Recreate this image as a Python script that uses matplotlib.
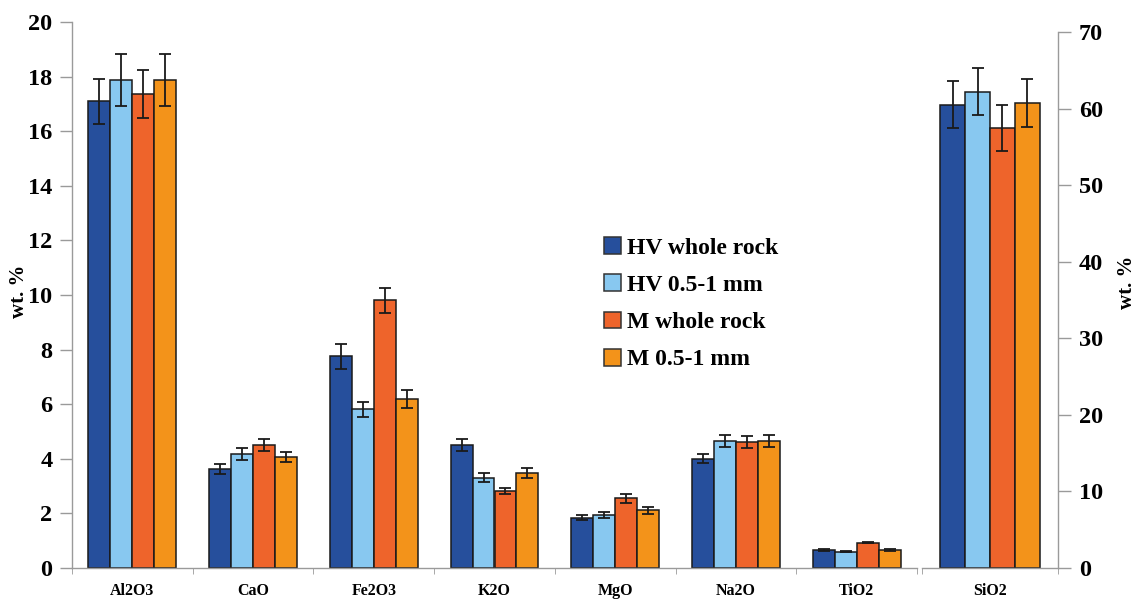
import matplotlib
matplotlib.use("Agg")
import matplotlib.pyplot as plt
from matplotlib.patches import Patch
import numpy as np

# Oxide compositions (wt. %) with standard deviations
oxides = ["Al2O3", "CaO", "Fe2O3", "K2O", "MgO", "Na2O", "TiO2"]
series = ["HV whole rock", "HV 0.5-1 mm", "M whole rock", "M 0.5-1 mm"]

hv_whole = [17.1, 3.63, 7.75, 4.50, 1.84, 4.00, 0.66]
hv_fine = [17.87, 4.18, 5.81, 3.31, 1.95, 4.65, 0.60]
m_whole = [17.38, 4.50, 9.80, 2.82, 2.55, 4.60, 0.93]
m_fine = [17.87, 4.07, 6.19, 3.48, 2.11, 4.65, 0.67]

hv_whole_err = [0.82, 0.18, 0.45, 0.23, 0.10, 0.17, 0.03]
hv_fine_err = [0.95, 0.22, 0.27, 0.16, 0.11, 0.23, 0.03]
m_whole_err = [0.88, 0.22, 0.45, 0.12, 0.16, 0.22, 0.03]
m_fine_err = [0.95, 0.19, 0.33, 0.17, 0.12, 0.23, 0.03]

sio2_label = "SiO2"
sio2 = [60.5, 62.2, 57.5, 60.7]
sio2_err = [3.1, 3.1, 3.0, 3.1]

colors = ["#264f9c", "#88c8f0", "#ee642b", "#f3931a"]

plt.rcParams["font.family"] = ["Liberation Serif", "DejaVu Serif"]
plt.rcParams["font.weight"] = "bold"

W, H = 1137, 599
fig = plt.figure(figsize=(W / 100, H / 100), dpi=100)


def frac(x0, y0, x1, y1):
    return [x0 / W, (H - y1) / H, (x1 - x0) / W, (y1 - y0) / H]


axis_grey = "#9a9a9a"
bar_w = 0.182
offsets = (np.arange(4) - 1.5) * bar_w
err_kw = dict(ecolor="#1a1a1a", elinewidth=1.3, capsize=4.5, capthick=1.3)
tick_size = 17.5
cat_size = 11.5

# Left panel: minor oxides
ax1 = fig.add_axes(frac(72, 22, 917, 568))
vals = [hv_whole, hv_fine, m_whole, m_fine]
errs = [hv_whole_err, hv_fine_err, m_whole_err, m_fine_err]
x = np.arange(len(oxides))
for i in range(4):
    ax1.bar(x + offsets[i], vals[i], bar_w, yerr=errs[i], color=colors[i],
            edgecolor="#1a1a1a", linewidth=1.1, error_kw=err_kw, zorder=2)
ax1.set_xlim(-0.5, len(oxides) - 0.5)
ax1.set_ylim(0, 20)
ax1.set_yticks(np.arange(0, 21, 2))
ax1.set_xticks(x)
ax1.set_xticklabels(oxides, fontsize=cat_size, fontweight="bold")
ax1.set_xticks(np.arange(len(oxides) + 1) - 0.5, minor=True)
ax1.tick_params(axis="x", which="major", length=0, pad=11)
ax1.tick_params(axis="x", which="minor", length=4, color=axis_grey, direction="out")
ax1.tick_params(axis="y", length=9, color=axis_grey, width=1, pad=5, labelsize=tick_size)
for s in ["top", "right"]:
    ax1.spines[s].set_visible(False)
for s in ["left", "bottom"]:
    ax1.spines[s].set_color(axis_grey)
    ax1.spines[s].set_linewidth(1)

# Right panel: SiO2
ax2 = fig.add_axes(frac(922, 32, 1058, 568))
for i in range(4):
    ax2.bar([offsets[i]], [sio2[i]], bar_w, yerr=[sio2_err[i]], color=colors[i],
            edgecolor="#1a1a1a", linewidth=1.1, error_kw=err_kw, zorder=2)
ax2.set_xlim(-0.5, 0.5)
ax2.set_ylim(0, 70)
ax2.set_yticks(np.arange(0, 71, 10))
ax2.set_xticks([0])
ax2.set_xticklabels([sio2_label], fontsize=cat_size, fontweight="bold")
ax2.set_xticks([-0.5, 0.5], minor=True)
ax2.tick_params(axis="x", which="major", length=0, pad=11)
ax2.tick_params(axis="x", which="minor", length=4, color=axis_grey, direction="out")
ax2.yaxis.tick_right()
ax2.tick_params(axis="y", length=9, color=axis_grey, width=1, pad=6, labelsize=tick_size)
for s in ["top", "left"]:
    ax2.spines[s].set_visible(False)
for s in ["right", "bottom"]:
    ax2.spines[s].set_color(axis_grey)
    ax2.spines[s].set_linewidth(1)

# Axis titles
fig.text(19 / W, 1 - 291 / H, "wt. %", rotation=90, ha="center", va="center",
         fontsize=15, fontweight="bold")
fig.text(1127 / W, 1 - 282 / H, "wt. %", rotation=90, ha="center", va="center",
         fontsize=15, fontweight="bold")

handles = [Patch(facecolor=c, edgecolor="#333333", linewidth=1.1) for c in colors]
fig.legend(handles, series, loc="upper left", bbox_to_anchor=(604 / W, 1 - 237 / H),
           frameon=False, prop={"family": "Liberation Serif", "weight": "bold", "size": 17},
           handlelength=0.72, handleheight=0.72, handletextpad=0.25, labelspacing=0.66,
           borderpad=0, borderaxespad=0)

fig.savefig("out.png", dpi=100)
